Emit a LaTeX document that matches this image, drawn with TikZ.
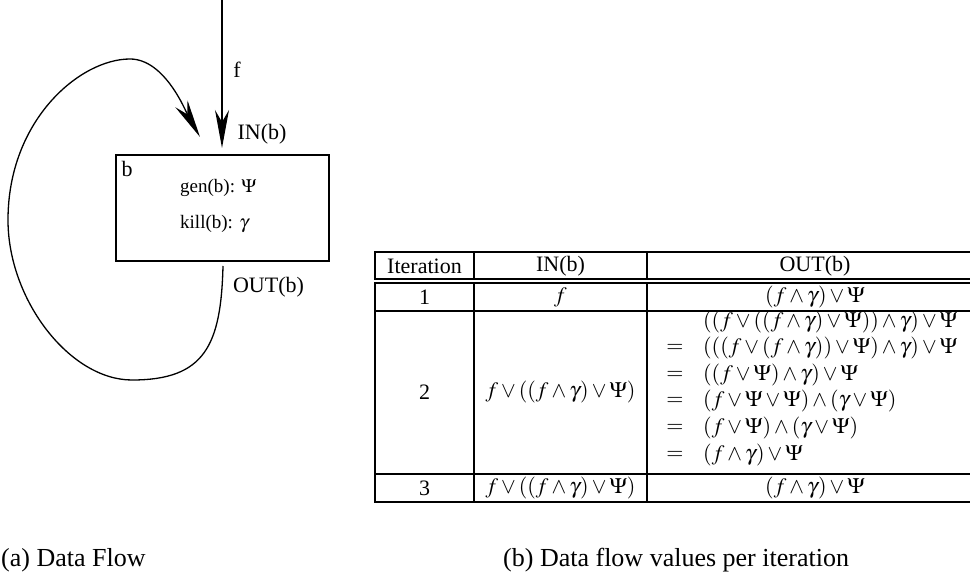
\documentclass[tikz,border=0pt]{standalone}
\usepackage{mathptmx}
\usepackage[no-math]{fontspec}
\setmainfont{Liberation Serif}
\usetikzlibrary{arrows.meta}

\tikzset{
  x=1pt, y=-1pt,
  lbl/.style={font=\fontsize{22}{26}\selectfont, inner sep=0pt},
  smalltext/.style={font=\fontsize{19}{23}\selectfont, inner sep=0pt, anchor=west},
  cell/.style={font=\fontsize{22}{26}\selectfont, inner sep=0pt},
  captext/.style={font=\fontsize{26}{31}\selectfont, inner sep=0pt, anchor=west},
  flow/.style={line width=1.3pt, -{Stealth[length=38pt,width=14pt,inset=12pt]}},
  tablerule/.style={line width=1.9pt},
  blockbox/.style={draw, line width=1.5pt, minimum width=213pt, minimum height=106pt, inner sep=0pt}
}

\begin{document}
\begin{tikzpicture}
\useasboundingbox (0,0) rectangle (970,577);

% ---------- (a) the block and its flows ----------
\node[blockbox] (blk) at (222.5,208) {};
\node[lbl] (bname) at (127,169) {b};
\node[smalltext] (gen)  at (180,188) {gen(b): $\Psi$};
\node[smalltext] (kill) at (180,224) {kill(b): $\gamma$};

\coordinate (src) at (222,-2);
\coordinate (intip) at (222,148);
\coordinate (outstart) at (223,266);
\coordinate (looptip) at (200,137);

\draw[flow] (src) -- (intip);
\node[lbl] (flab) at (237,70) {f};
\node[lbl] (inlab) at (262,134) {IN(b)};
\node[lbl] (outlab) at (268.5,287) {OUT(b)};

\draw[flow] (outstart)
  .. controls (221,345) and (205,380) .. (132,380)
  .. controls (70,380) and (8,300) .. (8,220)
  .. controls (8,120) and (80,59) .. (130,59)
  .. controls (165,59) and (186,112) .. (looptip);

% ---------- (b) the table ----------
\foreach \yy in {252,279,283,311,474,502}
  \draw[tablerule] (374,\yy) -- (972,\yy);
\foreach \xx in {375,474,647}{
  \draw[tablerule] (\xx,252) -- (\xx,279);
  \draw[tablerule] (\xx,283) -- (\xx,502);
}

\node[cell] (h1) at (424.5,266) {Iteration};
\node[cell] (h2) at (560.5,266) {IN(b)};
\node[cell] (h3) at (815,266) {OUT(b)};

\node[cell] (r1a) at (424.5,297) {1};
\node[cell] (r1b) at (560.5,297) {$f$};
\node[cell] (r1c) at (815,297) {$(f\wedge\gamma)\vee\Psi$};

\node[cell] (r2a) at (424.5,392) {2};
\node[cell] (r2b) at (560.5,392) {$f\vee((f\wedge\gamma)\vee\Psi)$};
\node[cell, anchor=west] (e1) at (703,322) {$((f\vee((f\wedge\gamma)\vee\Psi))\wedge\gamma)\vee\Psi$};
\node[cell] (q2) at (675,348) {$=$};
\node[cell, anchor=west] (e2) at (703,348) {$(((f\vee(f\wedge\gamma))\vee\Psi)\wedge\gamma)\vee\Psi$};
\node[cell] (q3) at (675,375) {$=$};
\node[cell, anchor=west] (e3) at (703,375) {$((f\vee\Psi)\wedge\gamma)\vee\Psi$};
\node[cell] (q4) at (675,401) {$=$};
\node[cell, anchor=west] (e4) at (703,401) {$(f\vee\Psi\vee\Psi)\wedge(\gamma\vee\Psi)$};
\node[cell] (q5) at (675,428) {$=$};
\node[cell, anchor=west] (e5) at (703,428) {$(f\vee\Psi)\wedge(\gamma\vee\Psi)$};
\node[cell] (q6) at (675,455) {$=$};
\node[cell, anchor=west] (e6) at (703,455) {$(f\wedge\gamma)\vee\Psi$};

\node[cell] (r3a) at (424.5,488) {3};
\node[cell] (r3b) at (560.5,488) {$f\vee((f\wedge\gamma)\vee\Psi)$};
\node[cell] (r3c) at (815,488) {$(f\wedge\gamma)\vee\Psi$};

% ---------- captions ----------
\node[captext] (capa) at (1,560) {(a) Data Flow};
\node[captext] (capb) at (503,560) {(b) Data flow values per iteration};
\end{tikzpicture}
\end{document}
